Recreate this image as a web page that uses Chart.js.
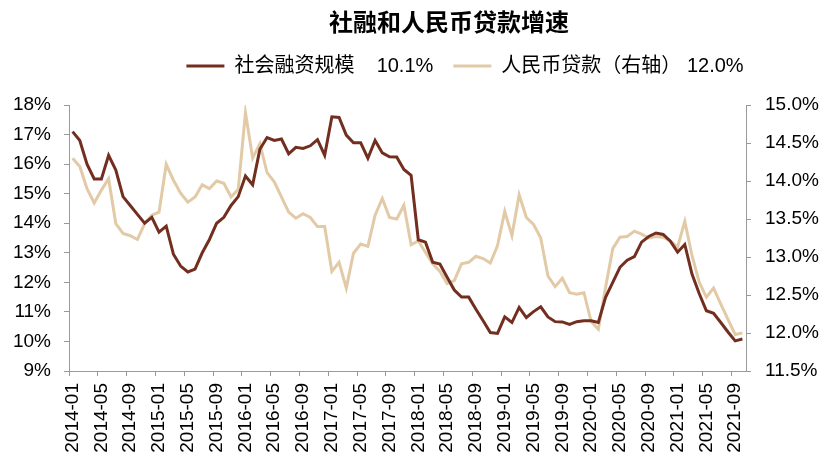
<!DOCTYPE html>
<html>
<head>
<meta charset="utf-8">
<script src="https://cdn.jsdelivr.net/npm/chart.js@4.4.0/dist/chart.umd.min.js"></script>
<style>
  html, body { margin: 0; padding: 0; background: #fff; }
  #wrap { width: 831px; height: 465px; position: relative; }
</style>
</head>
<body>
<div id="wrap"><canvas id="chart"></canvas></div>
<script>
// months 2014-01 .. 2021-10
const months = [
  "2014-01","2014-02","2014-03","2014-04","2014-05","2014-06","2014-07","2014-08","2014-09","2014-10","2014-11","2014-12",
  "2015-01","2015-02","2015-03","2015-04","2015-05","2015-06","2015-07","2015-08","2015-09","2015-10","2015-11","2015-12",
  "2016-01","2016-02","2016-03","2016-04","2016-05","2016-06","2016-07","2016-08","2016-09","2016-10","2016-11","2016-12",
  "2017-01","2017-02","2017-03","2017-04","2017-05","2017-06","2017-07","2017-08","2017-09","2017-10","2017-11","2017-12",
  "2018-01","2018-02","2018-03","2018-04","2018-05","2018-06","2018-07","2018-08","2018-09","2018-10","2018-11","2018-12",
  "2019-01","2019-02","2019-03","2019-04","2019-05","2019-06","2019-07","2019-08","2019-09","2019-10","2019-11","2019-12",
  "2020-01","2020-02","2020-03","2020-04","2020-05","2020-06","2020-07","2020-08","2020-09","2020-10","2020-11","2020-12",
  "2021-01","2021-02","2021-03","2021-04","2021-05","2021-06","2021-07","2021-08","2021-09","2021-10"
];

// 社会融资规模增速 (left axis, %)
const socialFinancing = [
  17.1, 16.8, 16.0, 15.5, 15.5, 16.3, 15.8, 14.9, 14.6, 14.3, 14.0, 14.2,
  13.7, 13.9, 12.95, 12.55, 12.35, 12.45, 13.0, 13.45, 14.0, 14.2, 14.6, 14.9,
  15.6, 15.3, 16.5, 16.9, 16.8, 16.85, 16.35, 16.57, 16.53, 16.62, 16.83, 16.3,
  17.6, 17.58, 16.98, 16.72, 16.72, 16.2, 16.8, 16.38, 16.25, 16.24, 15.82, 15.62,
  13.44, 13.36, 12.68, 12.62, 12.17, 11.74, 11.5, 11.5, 11.09, 10.7, 10.3, 10.27,
  10.83, 10.64, 11.15, 10.81, 11.01, 11.17, 10.83, 10.67, 10.66, 10.58, 10.67, 10.7,
  10.7, 10.64, 11.49, 12.0, 12.51, 12.75, 12.87, 13.36, 13.55, 13.67, 13.62, 13.39,
  13.02, 13.28, 12.28, 11.62, 11.04, 10.95, 10.64, 10.32, 10.02, 10.08
];

// 人民币贷款增速 (right axis, %)
const rmbLoans = [
  14.3, 14.19, 13.9, 13.71, 13.88, 14.03, 13.44, 13.31, 13.28, 13.23, 13.44, 13.55,
  13.59, 14.22, 14.01, 13.84, 13.72, 13.79, 13.95, 13.9, 14.0, 13.97, 13.79, 13.89,
  14.9, 14.3, 14.49, 14.11, 13.99, 13.79, 13.59, 13.51, 13.57, 13.52, 13.4, 13.4,
  12.81, 12.93, 12.59, 13.05, 13.17, 13.14, 13.55, 13.77, 13.52, 13.5, 13.68, 13.16,
  13.21, 13.06, 12.91, 12.81, 12.65, 12.69, 12.91, 12.93, 13.01, 12.98, 12.92, 13.15,
  13.6, 13.28, 13.82, 13.52, 13.43, 13.25, 12.75, 12.61, 12.72, 12.53, 12.51, 12.53,
  12.15, 12.05, 12.6, 13.11, 13.26, 13.27, 13.34, 13.3, 13.25, 13.27, 13.26, 13.21,
  13.13, 13.47, 13.02, 12.67, 12.47, 12.59, 12.38, 12.18, 11.98, 12.0
];

const legendNames = ["社会融资规模    10.1%", "人民币贷款（右轴） 12.0%"];

const BROWN = "#722f20";
const BEIGE = "#e2caa7";
const AXIS = "#9a9a9a";
const FONT = "'Liberation Sans', Arial, 'Noto Sans CJK SC', sans-serif";

// move title / legend to where they sit in the original
const placeBlocks = {
  id: "placeBlocks",
  afterLayout(chart) {
    const t = chart.titleBlock;
    if (t) {
      const dx = 449 - (t.left + t.right) / 2;
      t.left += dx;
      t.right += dx;
    }
    const l = chart.legend;
    if (l) {
      const pad = l.options.labels.padding;
      const dx = 465 - (l.left + l.right) / 2;
      const dy = 66 - (l.top + pad + 10);
      l.left += dx;
      l.right += dx;
      l.top += dy;
      l.bottom += dy;
    }
  }
};

new Chart(document.getElementById("chart"), {
  type: "line",
  data: {
    labels: months,
    datasets: [
      {
        label: legendNames[0],
        data: socialFinancing,
        yAxisID: "y",
        borderColor: BROWN,
        backgroundColor: BROWN,
        borderWidth: 3,
        pointRadius: 0,
        tension: 0,
      },
      {
        label: legendNames[1],
        data: rmbLoans,
        yAxisID: "y1",
        borderColor: BEIGE,
        backgroundColor: BEIGE,
        borderWidth: 3,
        pointRadius: 0,
        tension: 0,
      },
    ],
  },
  options: {
    responsive: true,
    maintainAspectRatio: false,
    animation: false,
    devicePixelRatio: 1,
    layout: { padding: 0 },
    plugins: {
      title: {
        display: true,
        text: "社融和人民币贷款增速",
        color: "#000",
        font: { family: "'Noto Sans CJK SC', sans-serif", size: 24, weight: "bold" },
        padding: { top: 7.6, bottom: 18.6 },
      },
      legend: {
        display: true,
        position: "top",
        labels: {
          color: "#000",
          font: { family: FONT, size: 20 },
          usePointStyle: true,
          pointStyle: "line",
          pointStyleWidth: 38,
          padding: 20,
        },
      },
      tooltip: { enabled: false },
    },
    scales: {
      x: {
        type: "category",
        offset: true,
        afterFit: (s) => { s.height = 94; },
        grid: {
          offset: true,
          drawOnChartArea: false,
          drawTicks: true,
          tickLength: 5,
          tickColor: (ctx) => (ctx.index % 4 === 0 ? AXIS : "rgba(0,0,0,0)"),
        },
        border: { color: AXIS, width: 1 },
        ticks: {
          autoSkip: false,
          maxRotation: 90,
          minRotation: 90,
          padding: 7,
          color: "#000",
          font: { family: FONT, size: 19 },
          callback: function (value, index) {
            return index % 4 === 0 ? this.getLabelForValue(value) : "";
          },
        },
      },
      y: {
        position: "left",
        min: 9,
        max: 18,
        afterFit: (s) => { s.width = 69; },
        grid: { drawOnChartArea: false, tickLength: 5, tickColor: AXIS },
        border: { color: AXIS, width: 1 },
        ticks: {
          stepSize: 1,
          padding: 13,
          color: "#000",
          font: { family: FONT, size: 19 },
          callback: (v) => v + "%",
        },
      },
      y1: {
        position: "right",
        min: 11.5,
        max: 15,
        afterFit: (s) => { s.width = 85; },
        grid: { drawOnChartArea: false, tickLength: 5, tickColor: AXIS },
        border: { color: AXIS, width: 1 },
        ticks: {
          stepSize: 0.5,
          padding: 14,
          color: "#000",
          font: { family: FONT, size: 19 },
          callback: (v) => v.toFixed(1) + "%",
        },
      },
    },
  },
  plugins: [placeBlocks],
});
</script>
</body>
</html>
